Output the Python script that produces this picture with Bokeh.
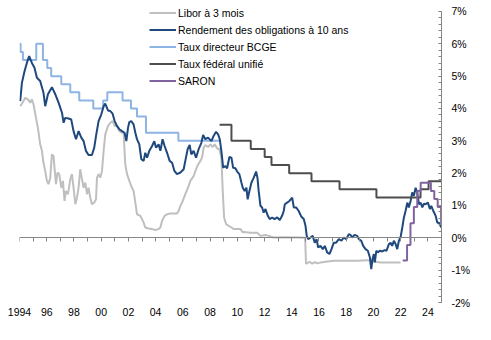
from bokeh.plotting import figure
from bokeh.models import Range1d, LinearAxis, FixedTicker, Legend, LegendItem
from bokeh.embed import file_html
from bokeh.resources import INLINE
import numpy as np

# ---------------- data ----------------
libor_t = [1994.05, 1994.22, 1994.42, 1994.62, 1994.79, 1994.91, 1995.03, 1995.21, 1995.35, 1995.52,
           1995.65, 1995.76, 1995.89, 1996.01, 1996.13, 1996.26, 1996.38, 1996.50, 1996.57, 1996.68,
           1996.79, 1996.92, 1997.07, 1997.19, 1997.31, 1997.41, 1997.56, 1997.73, 1997.85, 1997.97,
           1998.10, 1998.22, 1998.34, 1998.46, 1998.59, 1998.71, 1998.83, 1998.96, 1999.07, 1999.20,
           1999.32, 1999.49, 1999.62, 1999.69, 1999.81, 1999.93, 2000.06, 2000.18, 2000.30, 2000.50,
           2000.67, 2000.84, 2000.99, 2001.16, 2001.33, 2001.53, 2001.65, 2001.77, 2001.90, 2002.07,
           2002.21, 2002.38, 2002.51, 2002.63, 2002.88, 2003.00, 2003.12, 2003.24, 2003.49, 2003.74,
           2003.98, 2004.22, 2004.35, 2004.47, 2004.66, 2004.84, 2005.08, 2005.32, 2005.57, 2005.69,
           2005.82, 2005.99, 2006.18, 2006.38, 2006.55, 2006.79, 2006.97, 2007.12, 2007.29, 2007.41,
           2007.53, 2007.65, 2007.85, 2008.02, 2008.19, 2008.34, 2008.51, 2008.68, 2008.83, 2008.93,
           2009.03, 2009.18, 2009.37, 2009.57, 2009.74, 2010.23, 2010.40, 2010.50, 2010.96, 2011.46,
           2011.70, 2012.07, 2012.31, 2012.68, 2013.50, 2014.50, 2014.98, 2015.05, 2015.30, 2015.50,
           2015.70, 2015.88, 2016.13, 2016.62, 2017.11, 2018.21, 2018.81, 2019.54, 2020.03, 2020.52,
           2021.26, 2021.99]
libor_v = [4.07, 4.18, 4.33, 4.28, 4.18, 4.28, 4.13, 3.71, 3.40, 2.89,
           2.69, 2.32, 2.07, 1.76, 1.66, 1.86, 2.58, 2.53, 2.17, 1.66,
           2.02, 1.97, 1.55, 1.76, 1.14, 1.45, 1.35, 1.81, 1.97, 1.55,
           1.04, 1.24, 1.55, 2.12, 1.81, 1.55, 1.71, 1.35, 1.55, 1.24,
           1.04, 1.09, 1.19, 1.86, 1.97, 1.86, 2.07, 2.69, 3.20, 3.46,
           3.56, 3.61, 3.46, 3.46, 3.30, 3.25, 3.25, 2.27, 1.97, 1.76,
           1.60, 1.45, 1.09, 0.73, 0.68, 0.58, 0.47, 0.32, 0.29, 0.27,
           0.24, 0.27, 0.32, 0.52, 0.68, 0.73, 0.75, 0.75, 0.75, 0.83,
           0.99, 1.14, 1.35, 1.55, 1.76, 1.91, 2.12, 2.27, 2.38, 2.48,
           2.79, 2.87, 2.81, 2.89, 2.81, 2.89, 2.77, 2.74, 2.48, 1.45,
           0.63, 0.42, 0.37, 0.32, 0.27, 0.27, 0.17, 0.18, 0.16, 0.16,
           0.06, 0.09, 0.06, 0.01, 0.02, 0.01, 0.00, -0.81, -0.74, -0.80,
           -0.75, -0.79, -0.76, -0.73, -0.71, -0.71, -0.71, -0.69, -0.73, -0.76,
           -0.76, -0.76]

yield_t = [1994.05, 1994.18, 1994.37, 1994.54, 1994.71, 1994.91, 1995.10, 1995.28, 1995.52, 1995.76,
           1995.89, 1996.09, 1996.38, 1996.63, 1996.87, 1997.12, 1997.24, 1997.36, 1997.60, 1997.80,
           1997.97, 1998.15, 1998.34, 1998.54, 1998.71, 1998.88, 1999.07, 1999.32, 1999.49, 1999.64,
           1999.81, 2000.01, 2000.18, 2000.30, 2000.50, 2000.67, 2000.84, 2000.99, 2001.16, 2001.33,
           2001.53, 2001.72, 2001.85, 2001.97, 2002.07, 2002.21, 2002.38, 2002.51, 2002.63, 2002.80,
           2002.95, 2003.12, 2003.24, 2003.37, 2003.54, 2003.74, 2003.90, 2004.03, 2004.22, 2004.35,
           2004.51, 2004.66, 2004.84, 2005.03, 2005.21, 2005.38, 2005.57, 2005.82, 2006.06, 2006.18,
           2006.35, 2006.50, 2006.62, 2006.79, 2006.97, 2007.16, 2007.36, 2007.49, 2007.65, 2007.85,
           2008.10, 2008.26, 2008.44, 2008.59, 2008.71, 2008.83, 2008.96, 2009.13, 2009.25, 2009.42,
           2009.57, 2009.69, 2009.86, 2009.99, 2010.15, 2010.30, 2010.40, 2010.54, 2010.67, 2010.76,
           2010.89, 2011.04, 2011.21, 2011.38, 2011.48, 2011.57, 2011.70, 2011.82, 2011.94, 2012.07,
           2012.24, 2012.38, 2012.56, 2012.73, 2012.93, 2013.12, 2013.29, 2013.41, 2013.49, 2013.66,
           2013.83, 2014.03, 2014.15, 2014.32, 2014.51, 2014.71, 2014.88, 2015.01, 2015.10, 2015.21,
           2015.38, 2015.54, 2015.69, 2015.82, 2015.94, 2016.11, 2016.28, 2016.43, 2016.60, 2016.77,
           2016.92, 2017.09, 2017.26, 2017.46, 2017.65, 2017.82, 2018.00, 2018.19, 2018.32, 2018.44,
           2018.61, 2018.81, 2018.93, 2019.10, 2019.25, 2019.42, 2019.59, 2019.74, 2019.84, 2019.93,
           2020.03, 2020.10, 2020.21, 2020.32, 2020.47, 2020.65, 2020.82, 2020.96, 2021.13, 2021.26,
           2021.38, 2021.50, 2021.62, 2021.75, 2021.87, 2021.99, 2022.12, 2022.24, 2022.36, 2022.49,
           2022.60, 2022.73, 2022.85, 2022.97, 2023.10, 2023.22, 2023.34, 2023.46, 2023.59, 2023.71,
           2023.83, 2024.00, 2024.15, 2024.25, 2024.40, 2024.57, 2024.69, 2024.81, 2024.93, 2025.00]
yield_v = [4.23, 4.80, 5.15, 5.41, 5.62, 5.41, 5.26, 4.95, 4.85, 4.49,
           4.07, 4.44, 4.66, 4.44, 4.18, 3.87, 3.56, 3.71, 3.69, 3.66,
           3.30, 3.05, 3.30, 3.10, 2.99, 2.69, 2.56, 2.56, 2.79, 3.20,
           3.61, 3.82, 4.07, 4.15, 3.94, 3.92, 3.84, 3.61, 3.46, 3.36,
           3.30, 3.25, 2.99, 3.40, 3.58, 3.61, 3.51, 3.25, 3.05, 2.89,
           2.43, 2.38, 2.63, 2.48, 2.69, 2.84, 2.99, 2.79, 2.89, 2.69,
           3.05, 2.84, 2.63, 2.38, 2.32, 2.07, 1.97, 2.02, 2.12, 2.38,
           2.74, 2.87, 2.58, 2.69, 2.48, 2.74, 2.94, 3.18, 3.05, 3.10,
           2.99, 3.15, 3.28, 3.20, 3.05, 2.69, 2.17, 2.22, 2.15, 2.50,
           2.48, 2.17, 2.15, 2.05, 1.97, 1.71, 1.55, 1.45, 1.55, 1.19,
           1.45, 1.71, 1.86, 2.05, 1.86, 1.45, 0.99, 0.94, 0.78, 0.89,
           0.68, 0.58, 0.63, 0.58, 0.63, 0.55, 0.68, 0.83, 1.04, 1.09,
           1.14, 1.24, 0.94, 0.94, 0.83, 0.65, 0.58, 0.37, 0.06, -0.04,
           0.01, 0.06, -0.15, -0.04, -0.30, -0.25, -0.35, -0.25, -0.45, -0.50,
           -0.35, -0.15, -0.15, -0.04, -0.09, 0.01, -0.04, 0.11, 0.09, 0.01,
           0.09, 0.06, -0.04, -0.09, -0.25, -0.35, -0.40, -0.61, -0.97, -0.66,
           -0.50, -0.76, -0.40, -0.45, -0.40, -0.42, -0.38, -0.40, -0.20, -0.15,
           -0.25, -0.09, -0.18, -0.35, -0.09, 0.01, 0.32, 0.63, 0.83, 1.09,
           0.94, 1.14, 1.40, 1.30, 1.55, 1.40, 1.04, 1.09, 0.94, 1.06,
           1.04, 1.09, 0.89, 0.99, 0.83, 0.68, 0.47, 0.47, 0.37, 0.32]

bcge_t = [1994.00, 1994.08, 1994.25, 1995.23, 1995.72, 1996.04, 1996.33, 1997.07, 1997.73, 1998.39,
          1999.42, 2000.15, 2000.45, 2001.57, 2002.19, 2002.63, 2003.29, 2005.67, 2008.76]
bcge_v = [6.00, 5.75, 5.50, 6.00, 5.50, 5.25, 5.00, 4.75, 4.50, 4.25,
          4.00, 4.25, 4.50, 4.25, 4.00, 3.75, 3.25, 3.00, 3.00]

fed_t = [2008.70, 2009.57, 2010.99, 2012.01, 2012.51, 2013.81, 2015.45, 2017.51, 2020.22, 2023.46, 2024.05, 2025.00]
fed_v = [3.50, 3.00, 2.75, 2.50, 2.25, 2.00, 1.75, 1.50, 1.25, 1.50, 1.75, 1.75]

saron_t = [2022.15, 2022.47, 2022.72, 2022.97, 2023.22, 2023.47, 2024.22, 2024.47, 2024.72, 2024.97, 2025.00]
saron_v = [-0.70, -0.22, 0.45, 0.95, 1.45, 1.70, 1.45, 1.20, 0.95, 0.45, 0.45]

series_names = ["Libor à 3 mois", "Rendement des obligations à 10 ans", "Taux directeur BCGE",
                "Taux fédéral unifié", "SARON"]

label_years = [1994, 1996, 1998, 2000, 2002, 2004, 2006, 2008, 2010, 2012, 2014, 2016, 2018, 2020, 2022, 2024]
tick_labels = ["1994", "96", "98", "00", "02", "04", "06", "08", "10", "12", "14", "16", "18", "20", "22", "24"]
year_ticks = list(range(1994, 2026))
pct_ticks = [-2, -1, 0, 1, 2, 3, 4, 5, 6, 7]
pct_labels = ["-2%", "-1%", "0%", "1%", "2%", "3%", "4%", "5%", "6%", "7%"]

# ---------------- styling ----------------
FONT = "Liberation Sans"
FS = "10.5px"
AXIS_COL = "#868686"
C_LIBOR = "#BFBFBF"
C_YIELD = "#1F497D"
C_BCGE = "#8DB4E2"
C_FED = "#4D4D4D"
C_SARON = "#8064A2"

# a little head-room above 7% so the legend (which sits above the 7% line) is not clipped
Y_TOP = 7.34

p = figure(width=491, height=340, output_backend="svg", toolbar_location=None,
           x_range=Range1d(1994, 2025), y_range=Range1d(-2, Y_TOP),
           y_axis_location="right",
           min_border_left=19, min_border_right=50, min_border_top=0, min_border_bottom=38)
p.grid.visible = False
p.outline_line_color = None
p.background_fill_color = "white"
p.border_fill_color = "white"

r_libor = p.line(libor_t, libor_v, line_color=C_LIBOR, line_width=2)
r_bcge = p.step(bcge_t, bcge_v, mode="after", line_color=C_BCGE, line_width=2)
r_yield = p.line(yield_t, yield_v, line_color=C_YIELD, line_width=2)
r_fed = p.step(fed_t, fed_v, mode="after", line_color=C_FED, line_width=2)
r_saron = p.step(saron_t, saron_v, mode="after", line_color=C_SARON, line_width=2)

# bottom labels
xa = p.xaxis[0]
xa.ticker = FixedTicker(ticks=label_years)
xa.major_label_overrides = {y: s for y, s in zip(label_years, tick_labels)}
xa.axis_line_color = None
xa.major_tick_line_color = None
xa.minor_tick_line_color = None
xa.major_tick_out = 0
xa.major_tick_in = 0
xa.major_label_standoff = 5
xa.major_label_text_font = FONT
xa.major_label_text_font_size = FS
xa.major_label_text_color = "black"

# zero line with yearly ticks (no labels)
x0 = LinearAxis(fixed_location=0, ticker=FixedTicker(ticks=year_ticks),
                axis_line_color=AXIS_COL, major_tick_line_color=AXIS_COL,
                major_tick_in=0, major_tick_out=4, minor_tick_line_color=None,
                major_label_overrides={y: "" for y in year_ticks},
                major_label_standoff=0)
p.add_layout(x0, "below")

# right percentage axis
ya = p.yaxis[0]
ya.bounds = (-2, 7)
ya.ticker = FixedTicker(ticks=pct_ticks, minor_ticks=list(np.round(np.arange(-2, 7.001, 0.2), 2)))
ya.major_label_overrides = {v: s for v, s in zip(pct_ticks, pct_labels)}
ya.axis_line_color = AXIS_COL
ya.major_tick_line_color = AXIS_COL
ya.minor_tick_line_color = AXIS_COL
ya.major_tick_in = 3
ya.major_tick_out = 0
ya.minor_tick_in = 3
ya.minor_tick_out = 0
ya.major_label_standoff = 10
ya.major_label_text_font = FONT
ya.major_label_text_font_size = FS
ya.major_label_text_color = "black"

legend = Legend(items=[LegendItem(label=series_names[0], renderers=[r_libor]),
                       LegendItem(label=series_names[1], renderers=[r_yield]),
                       LegendItem(label=series_names[2], renderers=[r_bcge]),
                       LegendItem(label=series_names[3], renderers=[r_fed]),
                       LegendItem(label=series_names[4], renderers=[r_saron])],
                location=(130, 213), orientation="vertical",
                glyph_width=27, glyph_height=17, label_height=17, label_width=10,
                spacing=0, padding=0, margin=0, label_standoff=2,
                border_line_color=None, background_fill_alpha=0,
                label_text_font=FONT, label_text_font_size=FS, label_text_color="black")
p.add_layout(legend)

open("out.html", "w").write(file_html(p, INLINE))
